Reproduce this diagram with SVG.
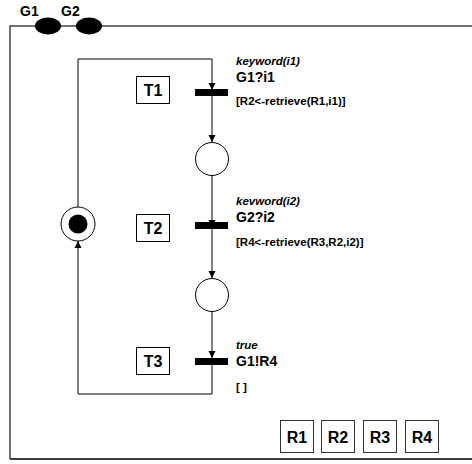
<svg xmlns="http://www.w3.org/2000/svg" width="472" height="464" viewBox="0 0 472 464">
<defs>
<marker id="arr" markerWidth="8" markerHeight="8" refX="7" refY="4" orient="auto" markerUnits="userSpaceOnUse">
<path d="M0,0.5 L7,4 L0,7.5 Z" fill="#000"/>
</marker>
</defs>
<style>
text{font-family:"Liberation Sans",Arial,sans-serif;font-weight:bold;fill:#000}
.ev{font-size:11.5px;font-style:italic}
.ch{font-size:14px}
.gd{font-size:11.5px}
.box{fill:#fff;stroke:#000;stroke-width:1}
.lbl{font-size:16px;text-anchor:middle}
.bar{fill:#000}
.place{fill:#fff;stroke:#000;stroke-width:1}
.line{fill:none;stroke:#000;stroke-width:1}
.rbox{fill:#fff;stroke:#333;stroke-width:1}
</style>
<rect width="472" height="464" fill="#fff"/>
<g id="frame">
<path d="M10,459 L10,26 L480,26" fill="none" stroke="#444" stroke-width="1.5"/>
<line x1="10" y1="459" x2="480" y2="459" stroke="#000" stroke-width="1.5"/>
</g>
<g id="G1">
<ellipse cx="48" cy="26" rx="13" ry="8.5" fill="#000"/>
<text x="20" y="16" font-size="14">G1</text>
</g>
<g id="G2">
<ellipse cx="89" cy="26" rx="13" ry="8.5" fill="#000"/>
<text x="61" y="16" font-size="14">G2</text>
</g>
<g id="connectors">
<path class="line" d="M78,207 L78,59 L212,59 L212,90" marker-end="url(#arr)"/>
<path class="line" d="M212,93 L212,142" marker-end="url(#arr)"/>
<path class="line" d="M212,175 L212,227" marker-end="url(#arr)"/>
<path class="line" d="M212,229 L212,278" marker-end="url(#arr)"/>
<path class="line" d="M212,312 L212,358" marker-end="url(#arr)"/>
<path class="line" d="M212,361 L212,394 L78,394 L78,241" marker-end="url(#arr)"/>
</g>
<g id="T1">
<rect class="bar" x="195" y="89" width="33" height="7"/>
<rect class="box" x="136.5" y="76.5" width="33" height="27"/>
<text class="lbl" x="153" y="96">T1</text>
<text class="ev" x="236" y="65">keyword(i1)</text>
<text class="ch" x="236" y="82">G1?i1</text>
<text class="gd" x="236" y="105">[R2&lt;-retrieve(R1,i1)]</text>
</g>
<g id="P1"><circle class="place" cx="212" cy="159" r="16.5"/></g>
<g id="T2">
<rect class="bar" x="195" y="222" width="33" height="7"/>
<rect class="box" x="136.5" y="214.5" width="33" height="27"/>
<text class="lbl" x="153" y="234">T2</text>
<text class="ev" x="236" y="205">kevword(i2)</text>
<text class="ch" x="236" y="222">G2?i2</text>
<text class="gd" x="236" y="246">[R4&lt;-retrieve(R3,R2,i2)]</text>
</g>
<g id="P2"><circle class="place" cx="212" cy="295" r="16.5"/></g>
<g id="T3">
<rect class="bar" x="195" y="358" width="33" height="7"/>
<rect class="box" x="136.5" y="347.5" width="33" height="27"/>
<text class="lbl" x="153" y="367">T3</text>
<text class="ev" x="236" y="349">true</text>
<text class="ch" x="236" y="366">G1!R4</text>
<text class="gd" x="236" y="391">[ ]</text>
</g>
<g id="P0">
<circle class="place" cx="78" cy="224" r="17"/>
<circle cx="78" cy="224" r="9.5" fill="#000"/>
</g>
<g id="R1"><rect class="rbox" x="280.5" y="420.5" width="33" height="32"/><text class="lbl" x="297" y="443">R1</text></g>
<g id="R2"><rect class="rbox" x="321.5" y="420.5" width="33" height="32"/><text class="lbl" x="338" y="443">R2</text></g>
<g id="R3"><rect class="rbox" x="363.5" y="420.5" width="33" height="32"/><text class="lbl" x="380" y="443">R3</text></g>
<g id="R4"><rect class="rbox" x="405.5" y="420.5" width="33" height="32"/><text class="lbl" x="422" y="443">R4</text></g>
</svg>
